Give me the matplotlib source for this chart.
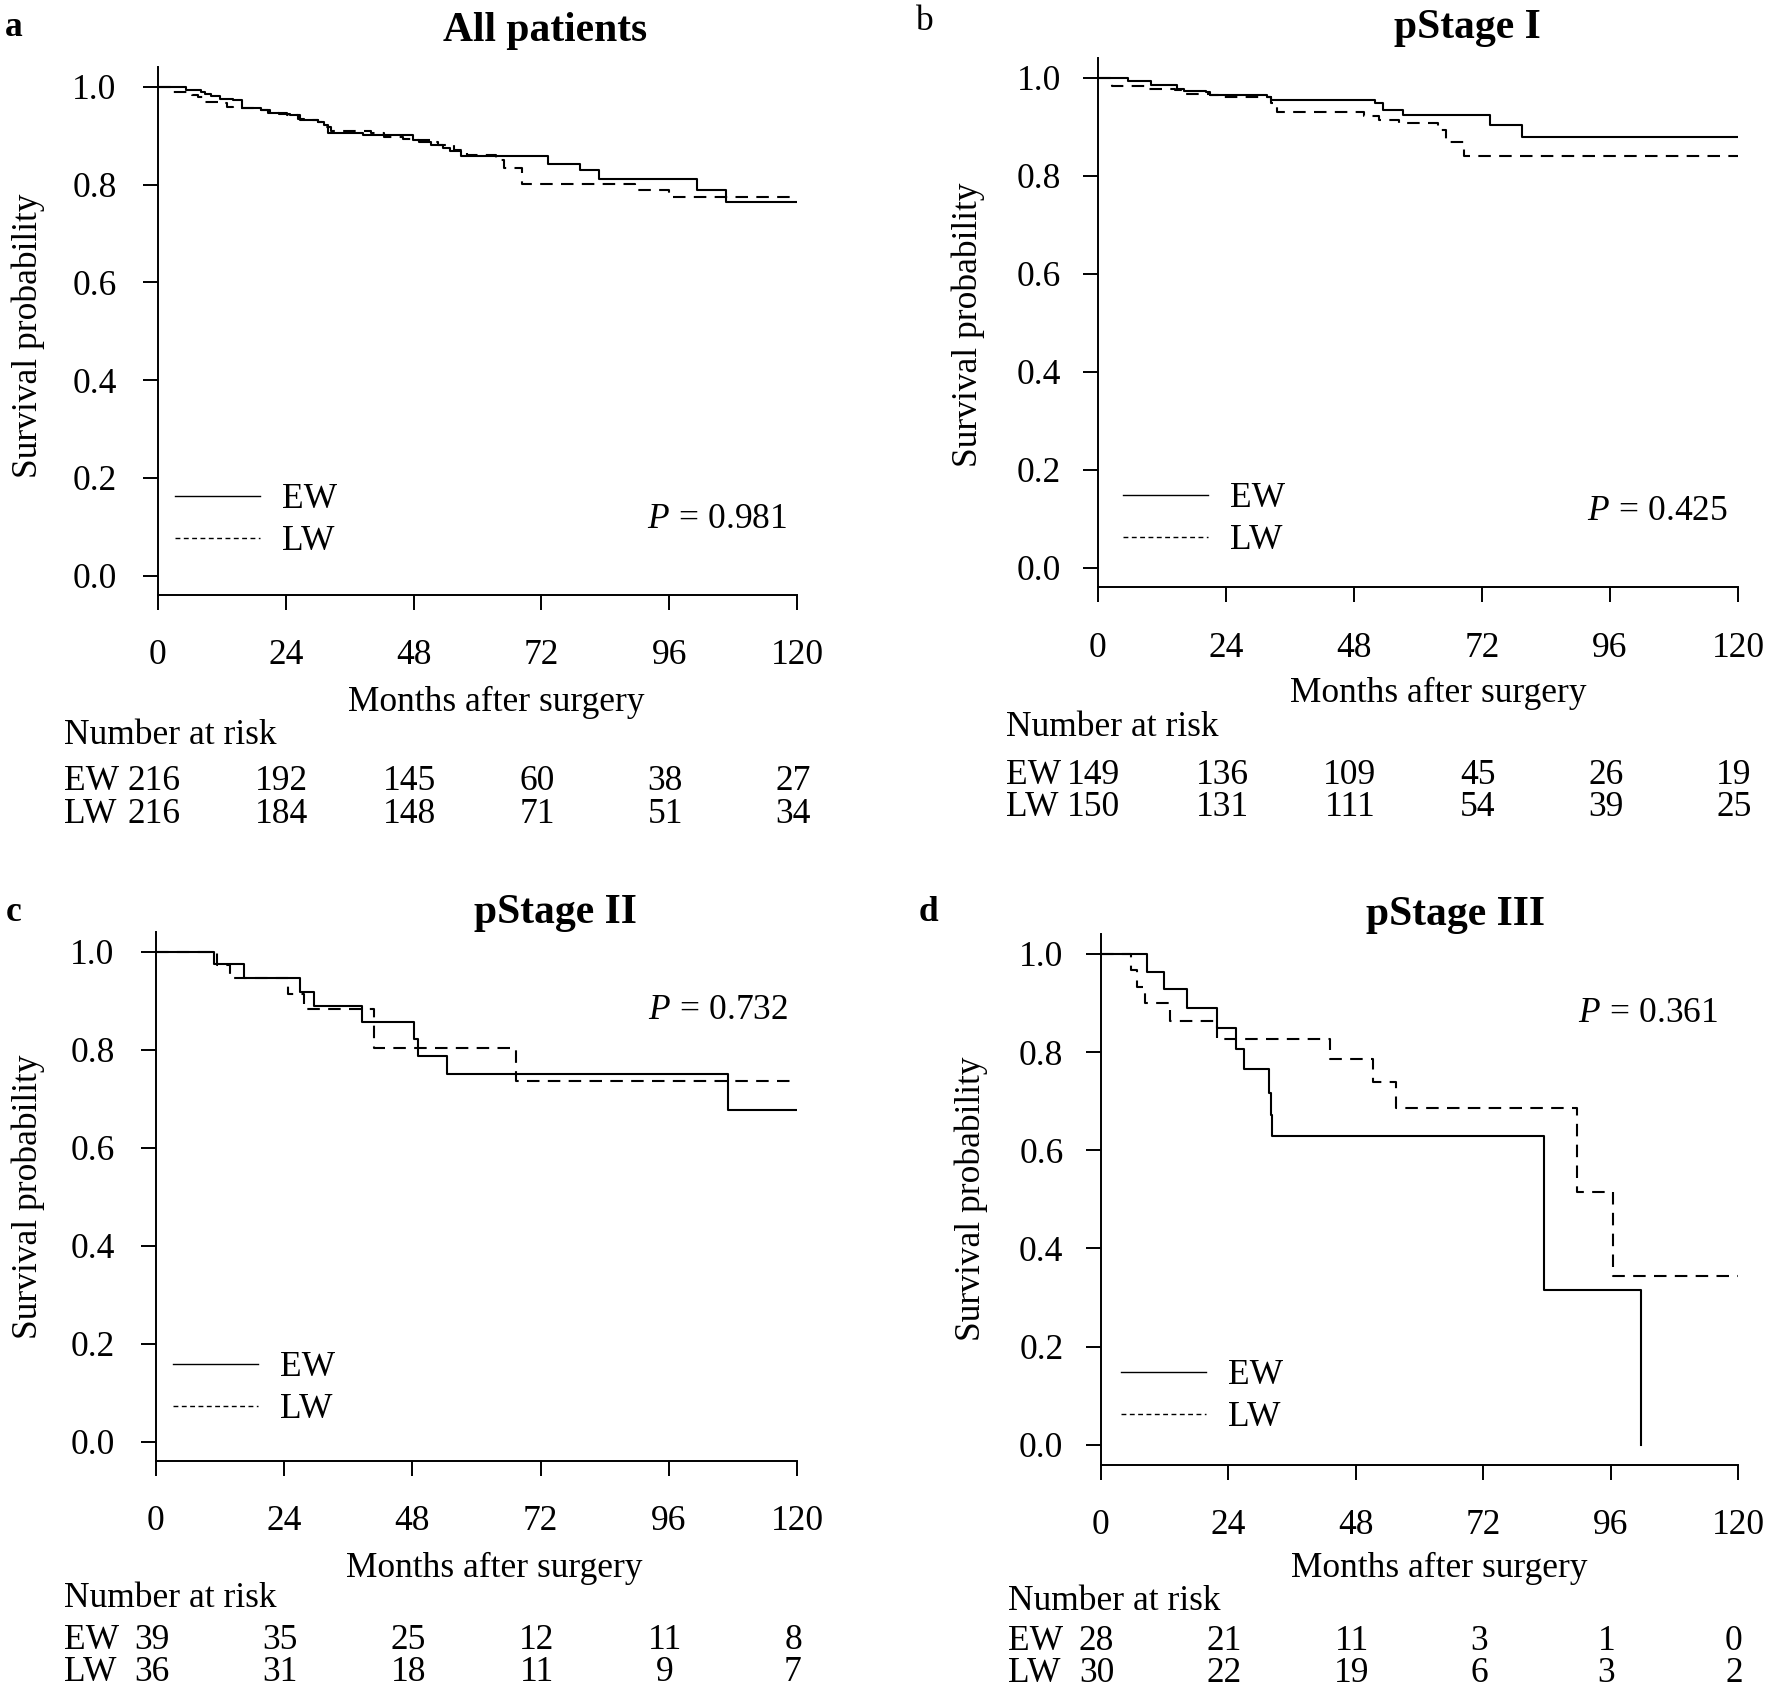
import matplotlib
matplotlib.use("Agg")
import matplotlib.pyplot as plt
from matplotlib.lines import Line2D
from matplotlib.transforms import blended_transform_factory, ScaledTranslation

# Kaplan-Meier step data (months, survival)
a_ew_t = [0, 5.2, 8.0, 8.8, 10.0, 11.7, 14.1, 15.7, 19.4, 20.6, 22.7, 24.7, 26.3, 27.5, 30.0, 31.2, 32.0,
          38.5, 47.9, 49.1, 51.2, 53.6, 54.8, 56.9, 73.2, 79.3, 82.9, 101.3, 106.6, 120]
a_ew_s = [1.0, 0.994, 0.990, 0.986, 0.981, 0.976, 0.973, 0.956, 0.952, 0.947, 0.944, 0.942, 0.935, 0.932, 0.928,
          0.922, 0.906, 0.901, 0.892, 0.887, 0.881, 0.874, 0.869, 0.859, 0.842, 0.829, 0.812, 0.789, 0.765, 0.765]
a_lw_t = [0, 2.5, 6.4, 7.6, 8.8, 11.3, 12.9, 14.1, 19.4, 21.0, 24.3, 26.7, 30.0, 30.8, 32.5, 40.0, 42.5, 46.0,
          48.5, 51.0, 52.5, 55.6, 58.0, 63.4, 65.0, 68.3, 89.5, 96.0, 120]
a_lw_s = [1.0, 0.990, 0.983, 0.980, 0.969, 0.966, 0.959, 0.956, 0.952, 0.946, 0.942, 0.932, 0.928, 0.918, 0.909,
          0.905, 0.897, 0.894, 0.892, 0.887, 0.881, 0.871, 0.860, 0.851, 0.833, 0.802, 0.789, 0.774, 0.774]

b_ew_t = [0, 5.6, 10.0, 14.9, 16.1, 20.2, 21.0, 31.6, 32.4, 51.9, 53.5, 57.2, 73.5, 79.5, 120]
b_ew_s = [1.0, 0.993, 0.986, 0.978, 0.973, 0.971, 0.965, 0.961, 0.954, 0.948, 0.934, 0.925, 0.903, 0.880, 0.880]
b_lw_t = [0, 2.7, 9.6, 14.5, 16.5, 21.0, 23.5, 32.4, 33.6, 49.9, 52.7, 56.4, 63.7, 65.3, 68.6, 120]
b_lw_s = [1.0, 0.983, 0.978, 0.975, 0.968, 0.965, 0.961, 0.948, 0.931, 0.922, 0.914, 0.907, 0.893, 0.869, 0.840, 0.840]

c_ew_t = [0, 10.8, 16.4, 27.0, 29.6, 38.6, 48.3, 49.1, 54.5, 107.1, 120]
c_ew_s = [1.0, 0.974, 0.946, 0.918, 0.888, 0.857, 0.821, 0.787, 0.751, 0.677, 0.677]
c_lw_t = [0, 11.5, 13.8, 24.8, 27.8, 40.9, 67.4, 120]
c_lw_s = [1.0, 0.972, 0.946, 0.914, 0.882, 0.803, 0.735, 0.735]

d_ew_t = [0, 8.8, 11.9, 16.2, 22.0, 25.4, 27.0, 31.7, 32.0, 32.3, 83.4, 101.8]
d_ew_s = [1.0, 0.962, 0.929, 0.889, 0.848, 0.807, 0.765, 0.717, 0.672, 0.629, 0.316, 0.0]
d_lw_t = [0, 5.8, 6.9, 8.3, 13.0, 22.0, 43.1, 51.2, 55.6, 89.6, 96.5, 120]
d_lw_s = [1.0, 0.967, 0.933, 0.900, 0.864, 0.827, 0.785, 0.738, 0.687, 0.515, 0.343, 0.343]

risk_times = [0, 24, 48, 72, 96, 120]
a_risk_ew = [216, 192, 145, 60, 38, 27]
a_risk_lw = [216, 184, 148, 71, 51, 34]
b_risk_ew = [149, 136, 109, 45, 26, 19]
b_risk_lw = [150, 131, 111, 54, 39, 25]
c_risk_ew = [39, 35, 25, 12, 11, 8]
c_risk_lw = [36, 31, 18, 11, 9, 7]
d_risk_ew = [28, 21, 11, 3, 1, 0]
d_risk_lw = [30, 22, 19, 6, 3, 2]

titles = ["All patients", "pStage I", "pStage II", "pStage III"]
letters = ["a", "b", "c", "d"]
pvalues = ["0.981", "0.425", "0.732", "0.361"]
yticks = [0.0, 0.2, 0.4, 0.6, 0.8, 1.0]

plt.rcParams['font.family'] = ['Liberation Serif', 'DejaVu Serif']
plt.rcParams['mathtext.fontset'] = 'custom'
plt.rcParams['mathtext.rm'] = 'Liberation Serif'
plt.rcParams['mathtext.it'] = 'Liberation Serif:italic'

W, H = 1770, 1692
FS = 25.5
fig = plt.figure(figsize=(W / 100, H / 100), dpi=100)


def fx(px):
    return px / W


def fy(py):
    return 1 - py / H


# pixel layout of each panel
panels = [
    dict(box=(158, 67.3, 797, 595.3), letter=(13.5, 27), title=(545, 31), ylab=(28, 336), xlab=(496, 702),
         nar=(64, 735), rows=(782, 814), leg=(175, 520.5), p=(787, 519), ypad=19,
         ew=(a_ew_t, a_ew_s), lw=(a_lw_t, a_lw_s), risk=(a_risk_ew, a_risk_lw), bold=True),
    dict(box=(1098, 58.3, 1738, 587.4), letter=(925, 22), title=(1467, 28), ylab=(968.5, 325), xlab=(1438, 693),
         nar=(1006, 727), rows=(775, 807), leg=(1123, 519.5), p=(1728, 511), ypad=16,
         ew=(b_ew_t, b_ew_s), lw=(b_lw_t, b_lw_s), risk=(b_risk_ew, b_risk_lw), bold=False),
    dict(box=(156, 932, 797, 1461.1), letter=(13.5, 912), title=(555, 913), ylab=(28, 1197), xlab=(494, 1568),
         nar=(64, 1598), rows=(1640, 1672), leg=(173, 1388.5), p=(788, 1010), ypad=19,
         ew=(c_ew_t, c_ew_s), lw=(c_lw_t, c_lw_s), risk=(c_risk_ew, c_risk_lw), bold=True),
    dict(box=(1100.6, 934.2, 1738, 1464.5), letter=(928, 912), title=(1455, 915), ylab=(971, 1199), xlab=(1439, 1568),
         nar=(1008, 1601), rows=(1641, 1673), leg=(1121, 1396.5), p=(1718, 1013), ypad=16,
         ew=(d_ew_t, d_ew_s), lw=(d_lw_t, d_lw_s), risk=(d_risk_ew, d_risk_lw), bold=True),
]

for i, pn in enumerate(panels):
    l, t, r, b = pn['box']
    ax = fig.add_axes([fx(l), fy(b), (r - l) / W, (b - t) / H])
    ax.step(pn['ew'][0], pn['ew'][1], where='post', color='black', lw=1.5)
    ax.step(pn['lw'][0], pn['lw'][1], where='post', color='black', lw=1.5, ls=(0, (6, 4)))
    ax.set_xlim(0, 120)
    ax.set_ylim(-0.04, 1.04)
    ax.set_xticks(risk_times)
    ax.set_yticks(yticks)
    ax.set_yticklabels(["%.1f" % v for v in yticks])
    for s in ['top', 'right']:
        ax.spines[s].set_visible(False)
    for s in ['left', 'bottom']:
        ax.spines[s].set_linewidth(1.4)
    ax.tick_params(axis='both', direction='out', length=10.8, width=1.4, labelsize=FS)
    ax.tick_params(axis='x', pad=21)
    ax.tick_params(axis='y', pad=pn['ypad'])

    handles = [Line2D([], [], color='black', lw=1.0),
               Line2D([], [], color='black', lw=1.0, ls=(0, (3.5, 2.5)))]
    lx, ly = pn['leg']
    ax.legend(handles, ['EW', 'LW'], loc='center left', bbox_to_anchor=(fx(lx), fy(ly)),
              bbox_transform=fig.transFigure, frameon=False, fontsize=FS, handlelength=2.4,
              handletextpad=0.62, labelspacing=0.25, borderpad=0, borderaxespad=0)

    px_, py_ = pn['p']
    fig.text(fx(px_), fy(py_), r'$P\,=\,%s$' % pvalues[i], ha='right', va='center', fontsize=FS)

    fig.text(fx(pn['letter'][0]), fy(pn['letter'][1]), letters[i], ha='center', va='center',
             fontsize=FS, fontweight='bold' if pn['bold'] else 'normal')
    fig.text(fx(pn['title'][0]), fy(pn['title'][1]), titles[i], ha='center', va='center',
             fontsize=30, fontweight='bold')
    fig.text(fx(pn['ylab'][0]), fy(pn['ylab'][1]), 'Survival probability', ha='center', va='center',
             rotation=90, fontsize=FS)
    fig.text(fx(pn['xlab'][0]), fy(pn['xlab'][1]), 'Months after surgery', ha='center', va='center',
             fontsize=FS)
    fig.text(fx(pn['nar'][0]), fy(pn['nar'][1]), 'Number at risk', ha='left', va='center', fontsize=FS)

    # number at risk rows, aligned on the x scale of the axes
    tr = blended_transform_factory(ax.transData, fig.transFigure) + \
        ScaledTranslation(-4 / 100, 0, fig.dpi_scale_trans)
    for name, vals, ry in zip(['EW', 'LW'], pn['risk'], pn['rows']):
        fig.text(fx(pn['nar'][0]), fy(ry), name, ha='left', va='center', fontsize=FS)
        for tm, v in zip(risk_times, vals):
            ax.text(tm, fy(ry), str(v), transform=tr, ha='center', va='center', fontsize=FS, clip_on=False)

fig.savefig('out.png', dpi=100)
